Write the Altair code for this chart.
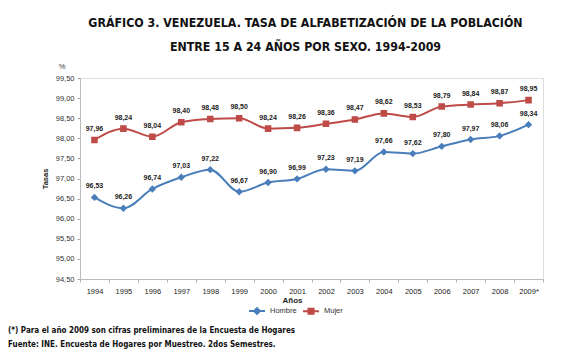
import altair as alt
import pandas as pd

years = ["1994", "1995", "1996", "1997", "1998", "1999", "2000", "2001",
         "2002", "2003", "2004", "2005", "2006", "2007", "2008", "2009*"]
hombre = [96.53, 96.26, 96.74, 97.03, 97.22, 96.67, 96.90, 96.99,
          97.23, 97.19, 97.66, 97.62, 97.80, 97.97, 98.06, 98.34]
mujer = [97.96, 98.24, 98.04, 98.40, 98.48, 98.50, 98.24, 98.26,
         98.36, 98.47, 98.62, 98.53, 98.79, 98.84, 98.87, 98.95]
series = ["Hombre", "Mujer"]
colors = ["#4A7EBB", "#BE4B48"]
# marker outlines with a horizontal stroke (visible only where a stroke is drawn: the legend)
shapes = ["M-1,0H1M0,-0.36L0.36,0L0,0.36L-0.36,0Z",
          "M-1,0H1M-0.32,-0.32H0.32V0.32H-0.32Z"]

rows = []
for y, h, m in zip(years, hombre, mujer):
    rows.append({"year": y, "sexo": "Hombre", "v": h})
    rows.append({"year": y, "sexo": "Mujer", "v": m})
df = pd.DataFrame(rows)

FONT = "DejaVu Sans Condensed, Liberation Sans, sans-serif"
LFONT = "Liberation Sans, Arial, sans-serif"

x_enc = alt.X("year:O", sort=years,
              scale=alt.Scale(paddingInner=0, paddingOuter=0),
              axis=alt.Axis(title="Años", titleFont=LFONT, titleFontSize=8,
                            titleFontWeight="bold", titleX=212, titleY=17,
                            titleColor="#222", labelAngle=0, labelFont=LFONT,
                            labelFontSize=7.5, labelColor="#222", labelPadding=5,
                            tickBand="extent", tickSize=3, tickColor="#aaa",
                            domainColor="#bbb", grid=False))
y_enc = alt.Y("v:Q", scale=alt.Scale(domain=[94.5, 99.5], nice=False, zero=False),
              axis=alt.Axis(title="Tasas", titleFont=LFONT, titleFontSize=7.5,
                            titleFontWeight="bold", titleColor="#222", titlePadding=6,
                            values=[94.5 + 0.5 * i for i in range(11)],
                            labelExpr="replace(format(datum.value, '.2f'), '.', ',')",
                            labelFont=LFONT, labelFontSize=7.5, labelColor="#333",
                            labelPadding=3, tickSize=3, tickColor="#aaa",
                            domainColor="#bbb", grid=False))
leg = alt.Legend(title=None, orient="none", direction="horizontal",
                 legendX=168, legendY=224, labelFont=LFONT,
                 labelFontSize=7.5, labelColor="#333",
                 symbolSize=256, symbolStrokeWidth=2, symbolOpacity=1,
                 columnPadding=2, labelOffset=4)
cscale = alt.Scale(domain=series, range=colors)
color_enc = alt.Color("sexo:N", scale=cscale, legend=leg)
stroke_enc = alt.Stroke("sexo:N", scale=cscale, legend=leg)
shape_enc = alt.Shape("sexo:N", scale=alt.Scale(domain=series, range=shapes), legend=leg)

base = alt.Chart(df)
lines = base.mark_line(interpolate="monotone", strokeWidth=2).encode(
    x=x_enc, y=y_enc, color=color_enc)
points = base.mark_point(filled=True, opacity=1, size=420, strokeWidth=0).encode(
    x=x_enc, y=y_enc, color=color_enc, stroke=stroke_enc, shape=shape_enc)
labels = base.transform_calculate(
    lab="replace(format(datum.v, '.2f'), '.', ',')"
).mark_text(dy=-11, font=LFONT, fontSize=7, fontWeight="bold", color="#222").encode(
    x=x_enc, y=y_enc, text="lab:N")

pct = alt.Chart(pd.DataFrame({"t": ["%"]})).mark_text(
    font=LFONT, fontSize=7.5, color="#333").encode(
    x=alt.value(-18), y=alt.value(-11), text="t:N")

notes = ["(*) Para el año 2009 son cifras preliminares de la Encuesta de Hogares",
         "Fuente: INE. Encuesta de Hogares por Muestreo. 2dos Semestres."]
note1 = alt.Chart(pd.DataFrame({"t": [notes[0]]})).mark_text(
    font=FONT, fontSize=8, fontWeight="bold", align="left", color="#111").encode(
    x=alt.value(-72), y=alt.value(253), text="t:N")
note2 = alt.Chart(pd.DataFrame({"t": [notes[1]]})).mark_text(
    font=FONT, fontSize=8, fontWeight="bold", align="left", color="#111").encode(
    x=alt.value(-72), y=alt.value(267), text="t:N")

chart = alt.layer(lines, points, labels, pct, note1, note2).properties(
    width=463, height=201,
    padding={"left": 80, "top": 78, "right": 19, "bottom": 77},
    autosize=alt.AutoSizeParams(type="none"),
    title=alt.TitleParams(
        text=["GRÁFICO 3. VENEZUELA. TASA DE ALFABETIZACIÓN DE LA POBLACIÓN",
              "ENTRE 15 A 24 AÑOS POR SEXO. 1994-2009"],
        font=FONT, fontSize=12.3, fontWeight="bold", color="#111",
        anchor="middle", dx=-6, offset=10, lineHeight=24),
).configure_view(stroke=None).configure(background="white")

chart.save("out.html", embed_options={"renderer": "svg", "actions": False})
